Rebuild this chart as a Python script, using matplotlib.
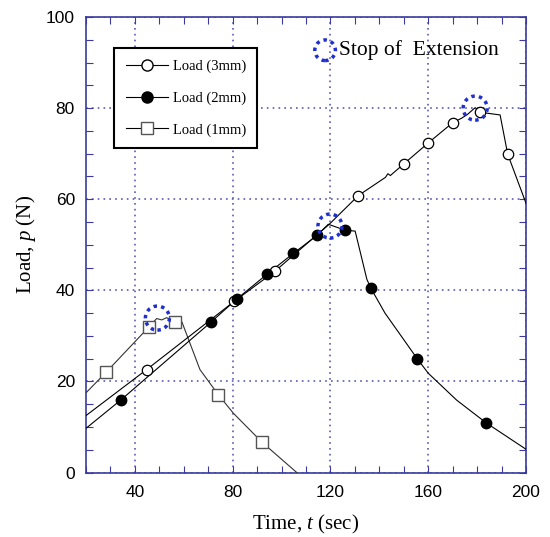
import matplotlib
matplotlib.use("Agg")
import matplotlib.pyplot as plt
from matplotlib.lines import Line2D
from matplotlib.ticker import MultipleLocator

plt.rcParams['mathtext.fontset'] = 'custom'
plt.rcParams['mathtext.rm'] = 'Liberation Serif'
plt.rcParams['mathtext.it'] = 'Liberation Serif:italic'

# load (3mm) - line trace and marker points
t_3mm = [20, 44.8, 80.7, 97.3, 119.5, 131.4, 142.5, 143.5, 144.5, 150.1, 160.1,
         170.0, 173.7, 176.0, 179.2, 181.2, 189.4, 192.5, 200]
p_3mm = [12.5, 22.6, 37.6, 44.2, 54.5, 60.8, 64.8, 65.6, 65.2, 67.8, 72.4,
         76.8, 77.8, 78.6, 80.1, 79.1, 78.5, 69.9, 59.1]
tm_3mm = [44.8, 80.7, 97.3, 131.4, 150.1, 160.1, 170.0, 181.2, 192.5]
pm_3mm = [22.6, 37.6, 44.2, 60.8, 67.8, 72.4, 76.8, 79.1, 69.9]

# load (2mm)
t_2mm = [20, 34.2, 71.1, 81.7, 94.2, 104.8, 114.6, 119.1, 126.0, 130.1, 134.9,
         136.6, 142.3, 155.6, 160.0, 171.6, 183.7, 200]
p_2mm = [9.7, 15.9, 33.0, 38.1, 43.6, 48.1, 52.1, 54.5, 53.2, 53.0, 42.4,
         40.4, 35.0, 24.9, 21.8, 15.9, 10.9, 5.1]
tm_2mm = [34.2, 71.1, 81.7, 94.2, 104.8, 114.6, 126.0, 136.6, 155.6, 183.7]
pm_2mm = [15.9, 33.0, 38.1, 43.6, 48.1, 52.1, 53.2, 40.4, 24.9, 10.9]

# load (1mm)
t_1mm = [20, 28.2, 45.8, 48.9, 51.0, 53.0, 56.4, 59.2, 66.6, 74.1, 80.3, 92.1, 106.2]
p_1mm = [17.5, 22.0, 32.0, 33.8, 33.5, 34.0, 33.1, 33.1, 22.6, 17.1, 13.0, 6.6, 0]
tm_1mm = [28.2, 45.8, 56.4, 74.1, 92.1]
pm_1mm = [22.0, 32.0, 33.1, 17.1, 6.6]

# stop of extension points
t_stop = [49.2, 119.8, 179.2]
p_stop = [33.9, 54.1, 80.0]

blue = '#3a3aa0'
dot_blue = '#1f2fd0'

fig = plt.figure(figsize=(5.5, 5.37), dpi=100)
ax = fig.add_axes([0.1564, 0.1201, 0.8, 0.8482])

lw = 0.8
ax.plot(t_1mm, p_1mm, color='#333333', lw=lw, zorder=3)
ax.plot(tm_1mm, pm_1mm, ls='none', marker='s', ms=8, mfc='white', mec='#555555', mew=1.0, zorder=4)
ax.plot(t_3mm, p_3mm, color='black', lw=lw, zorder=3)
ax.plot(tm_3mm, pm_3mm, ls='none', marker='o', ms=7.5, mfc='white', mec='black', mew=0.9, zorder=4)
ax.plot(t_2mm, p_2mm, color='black', lw=lw, zorder=3)
ax.plot(tm_2mm, pm_2mm, ls='none', marker='o', ms=7.5, mfc='black', mec='black', zorder=5)

ax.scatter(t_stop, p_stop, s=300, facecolors='none', edgecolors=dot_blue,
           linewidths=2.5, linestyles=[(0, (1, 1.2))], zorder=6)

# "Stop of Extension" note
ax.scatter([117.8], [92.7], s=220, facecolors='none', edgecolors=dot_blue,
           linewidths=2.5, linestyles=[(0, (1, 1.2))], zorder=6)
ax.text(123.3, 92.7, 'Stop of  Extension', family='Liberation Serif', fontsize=15.5,
        va='center', ha='left')

ax.set_xlim(20, 200)
ax.set_ylim(0, 100)
ax.xaxis.set_minor_locator(MultipleLocator(10))
ax.yaxis.set_minor_locator(MultipleLocator(5))
ax.set_xticks([40, 80, 120, 160, 200])
ax.set_yticks([0, 20, 40, 60, 80, 100])
ax.tick_params(which='both', direction='in', top=True, right=True, color=blue,
               labelsize=12.5, labelcolor='black')
ax.tick_params(which='both', length=5, width=0.8)
ax.tick_params(axis='x', which='major', pad=9)
ax.tick_params(axis='y', which='major', pad=8)
for lab in ax.get_xticklabels() + ax.get_yticklabels():
    lab.set_family('Liberation Sans')
for s in ax.spines.values():
    s.set_color(blue)
    s.set_linewidth(1.2)
ax.grid(True, which='major', color='#5a5ab8', ls=(0, (1, 2.5)), lw=1.2)

ax.set_xlabel('Time, $\\it{t}$ (sec)', family='Liberation Serif', fontsize=15, labelpad=9)
ax.set_ylabel('Load, $\\it{p}$ (N)', family='Liberation Serif', fontsize=15, labelpad=6)

handles = [
    Line2D([], [], color='black', lw=lw, marker='o', ms=8, mfc='white', mec='black'),
    Line2D([], [], color='black', lw=lw, marker='o', ms=8, mfc='black', mec='black'),
    Line2D([], [], color='black', lw=lw, marker='s', ms=8.5, mfc='white', mec='#555555'),
]
leg = ax.legend(handles, ['Load (3mm)', 'Load (2mm)', 'Load (1mm)'],
                loc='upper left', bbox_to_anchor=(0.064, 0.932),
                prop={'family': 'Liberation Serif', 'size': 10.5},
                frameon=True, fancybox=False, framealpha=1, edgecolor='black',
                handlelength=2.9, handletextpad=0.3, labelspacing=1.25,
                borderpad=0.8, borderaxespad=0)
leg.get_frame().set_linewidth(1.5)
leg.set_zorder(10)

fig.savefig('out.png', dpi=100)
